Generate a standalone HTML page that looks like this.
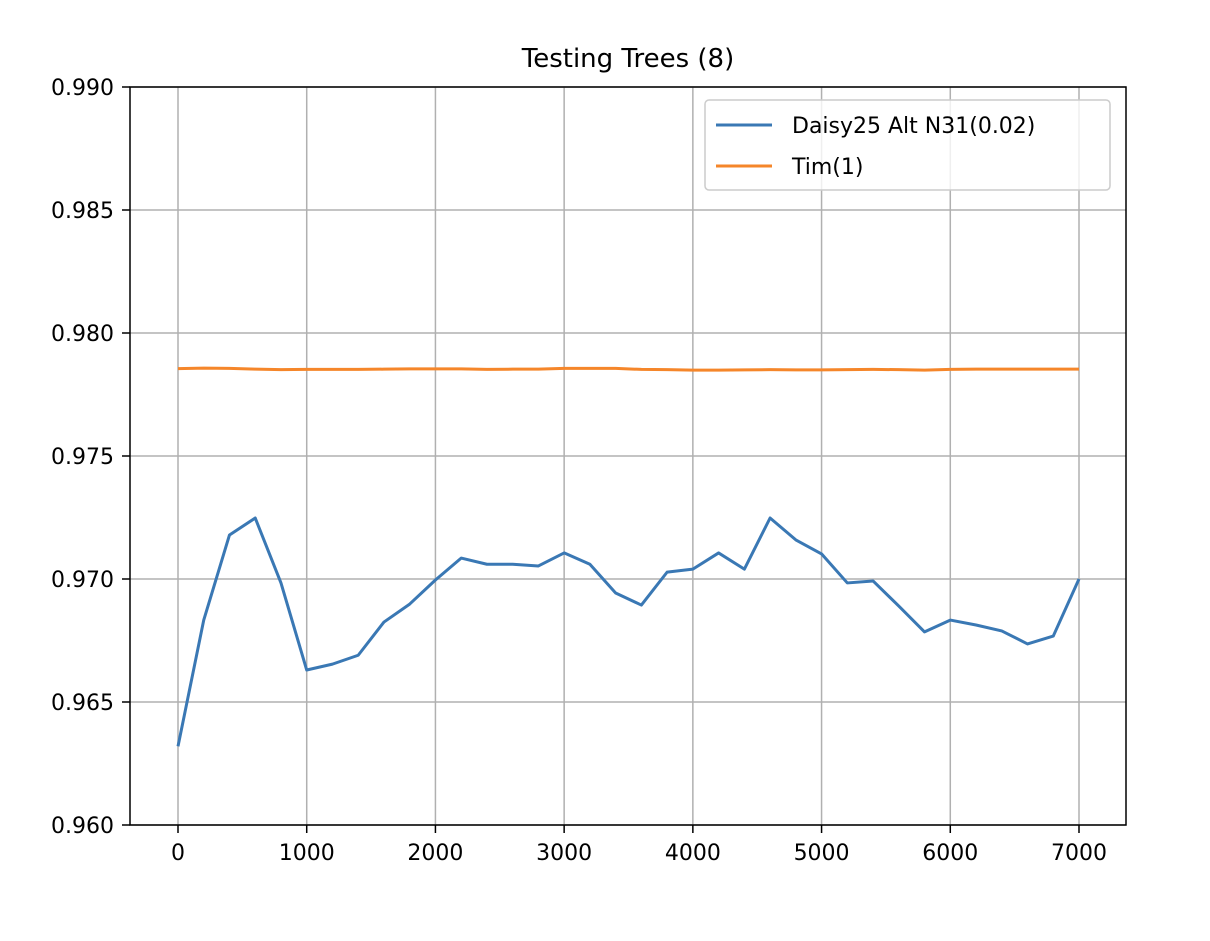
<!DOCTYPE html>
<html><head><meta charset="utf-8"><style>
body{margin:0;background:#fff;}
svg text{font-family:"DejaVu Sans","Liberation Sans",sans-serif;fill:#000;}
</style></head><body>
<svg width="1210" height="936">
<g id="grid"></g>
<rect x="130" y="87" width="996" height="738" fill="none" stroke="#000" stroke-width="1.5"/>
<g id="ticks"></g>
<g id="lines"></g>
<text x="628" y="67" font-size="26" text-anchor="middle">Testing Trees (8)</text>
<g>
<rect x="705" y="100" width="405" height="90" rx="4" fill="#fff" fill-opacity="0.8" stroke="#ccc" stroke-width="1.5"/>
<line x1="716" y1="125" x2="772" y2="125" stroke="#3a78b4" stroke-width="3"/>
<text x="792" y="133" font-size="22">Daisy25 Alt N31(0.02)</text>
<line x1="716" y1="166" x2="772" y2="166" stroke="#f5862a" stroke-width="3"/>
<text x="792" y="174" font-size="22">Tim(1)</text>
</g>
</svg>
<script>
const xs=[];for(let i=0;i<=35;i++)xs.push(i*200);
const daisy=[0.9632,0.96833,0.97179,0.97248,0.96984,0.9663,0.96654,0.9669,0.96825,0.96898,0.96996,0.97085,0.9706,0.9706,0.97053,0.97106,0.9706,0.96943,0.96894,0.97028,0.9704,0.97106,0.9704,0.97248,0.97159,0.97102,0.96984,0.96992,0.9689,0.96785,0.96833,0.96813,0.96789,0.96736,0.96768,0.970];
const tim=[0.97855,0.97857,0.97856,0.97853,0.97851,0.97852,0.97852,0.97852,0.97853,0.97854,0.97854,0.97854,0.97852,0.97853,0.97853,0.97856,0.97856,0.97856,0.97852,0.97851,0.97849,0.97849,0.9785,0.97851,0.9785,0.9785,0.97851,0.97852,0.97851,0.97849,0.97852,0.97853,0.97853,0.97853,0.97853,0.97853];
const xTicks=[0,1000,2000,3000,4000,5000,6000,7000];
const yTicks=[0.960,0.965,0.970,0.975,0.980,0.985,0.990];
const X=v=>178+v*(1079-178)/7000;
const Y=v=>825-(v-0.960)*(738/0.030);
const NS="http://www.w3.org/2000/svg";
const grid=document.getElementById('grid'),ticks=document.getElementById('ticks'),lines=document.getElementById('lines');
function mk(t,a,p){const e=document.createElementNS(NS,t);for(const k in a)e.setAttribute(k,a[k]);p.appendChild(e);return e;}
xTicks.forEach(v=>{
 const g=mk('line',{x1:X(v),x2:X(v),y1:87,y2:825,stroke:'#b0b0b0','stroke-width':1.5},grid);
 
 mk('line',{x1:X(v),x2:X(v),y1:825,y2:833,stroke:'#000','stroke-width':1.5},ticks);
 const t=mk('text',{x:X(v),y:860,'font-size':22,'text-anchor':'middle'},ticks);t.textContent=v;
 
});
yTicks.forEach(v=>{
 const g=mk('line',{x1:130,x2:1126,y1:Y(v),y2:Y(v),stroke:'#b0b0b0','stroke-width':1.5},grid);
 
 mk('line',{x1:122,x2:130,y1:Y(v),y2:Y(v),stroke:'#000','stroke-width':1.5},ticks);
 const t=mk('text',{x:114,y:Y(v)+8,'font-size':22,'text-anchor':'end'},ticks);t.textContent=v.toFixed(3);
 
});
function line(d,c,n){const p=mk('polyline',{points:d.map((v,i)=>X(xs[i])+','+Y(v)).join(' '),fill:'none',stroke:c,'stroke-width':3,'stroke-linejoin':'round'},lines);
 }
line(daisy,'#3a78b4','daisy-line');
line(tim,'#f5862a','tim-line');
</script>
</body></html>
